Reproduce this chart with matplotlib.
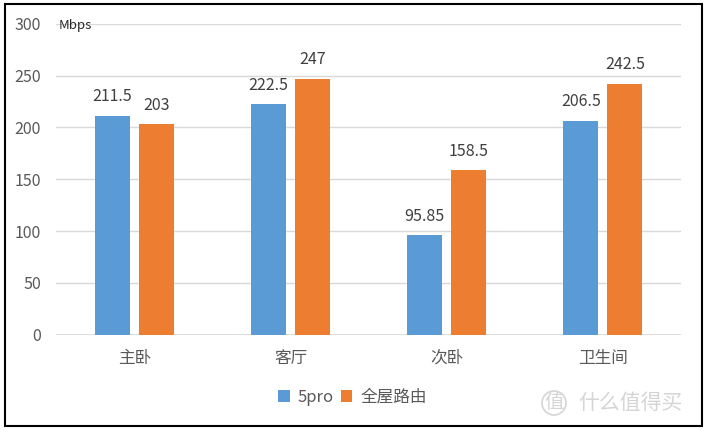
import matplotlib
matplotlib.use("Agg")
import matplotlib.pyplot as plt
import matplotlib.patches as mpatches
import numpy as np

plt.rcParams['font.family'] = ['Noto Sans CJK SC', 'DejaVu Sans']

categories = ['主卧', '客厅', '次卧', '卫生间']
series_names = ['5pro', '全屋路由']
values_5pro = [211.5, 222.5, 95.85, 206.5]
values_whole = [203, 247, 158.5, 242.5]
labels_5pro = ['211.5', '222.5', '95.85', '206.5']
labels_whole = ['203', '247', '158.5', '242.5']
yticks = [0, 50, 100, 150, 200, 250, 300]

blue = '#5B9BD5'
orange = '#ED7D31'
text_color = '#595959'

fig = plt.figure(figsize=(7.07, 4.30), dpi=100)
ax = fig.add_axes([56.4/707, 1-334.5/430, (681-56.4)/707, (334.5-24)/430])

x = np.arange(len(categories))
w = 0.224
off = 0.141
b1 = ax.bar(x - off, values_5pro, w, color=blue, label=series_names[0], zorder=3)
b2 = ax.bar(x + off, values_whole, w, color=orange, label=series_names[1], zorder=3)

for bars, labs in ((b1, labels_5pro), (b2, labels_whole)):
    for rect, lab in zip(bars, labs):
        ax.annotate(lab, (rect.get_x() + rect.get_width()/2, rect.get_height()),
                    xytext=(0, 7.5), textcoords='offset points', ha='center', va='bottom',
                    fontsize=11.5, color='#404040')

ax.set_xlim(-0.5, len(categories) - 0.5)
ax.set_ylim(0, 300)
ax.set_yticks(yticks)
ax.set_yticklabels([str(v) for v in yticks], fontsize=11.5, color=text_color)
ax.set_xticks(x)
ax.set_xticklabels(categories, fontsize=12, color=text_color)
ax.tick_params(axis='both', length=0)
ax.tick_params(axis='y', pad=11)
ax.tick_params(axis='x', pad=11)
ax.grid(axis='y', color='#D9D9D9', linewidth=1, zorder=0)
for s in ax.spines.values():
    s.set_visible(False)
ax.axhline(0, color='#D9D9D9', linewidth=1.2, zorder=2)

ax.text(0.003, 299, 'Mbps', fontsize=9.5, color='#262626', ha='left', va='center',
        transform=ax.get_yaxis_transform())

fig.legend(handles=[b1, b2], labels=series_names, loc='center',
           bbox_to_anchor=(352.5/707, 1-397/430), ncol=2, frameon=False,
           fontsize=12, handlelength=0.7, handleheight=0.7, handletextpad=0.5,
           columnspacing=0.4, labelcolor=text_color)

# watermark
fig.text(630/707, 1-403/430, '什么值得买', fontsize=15, color='#D5D5D5', ha='center', va='center')
fig.text(554/707, 1-403/430, '值', fontsize=14, color='#D5D5D5', ha='center', va='center')
circ = mpatches.Circle((554/100, (430-403)/100), 0.12, transform=fig.dpi_scale_trans,
                       fill=False, edgecolor='#D5D5D5', linewidth=1.2)
fig.patches.append(circ)

# border
border = mpatches.Rectangle((4.5/707, 4/430), (702-4.5)/707, (426-4)/430,
                            transform=fig.transFigure, fill=False, edgecolor='black',
                            linewidth=1.5)
fig.patches.append(border)

fig.savefig('out.png', dpi=100)
